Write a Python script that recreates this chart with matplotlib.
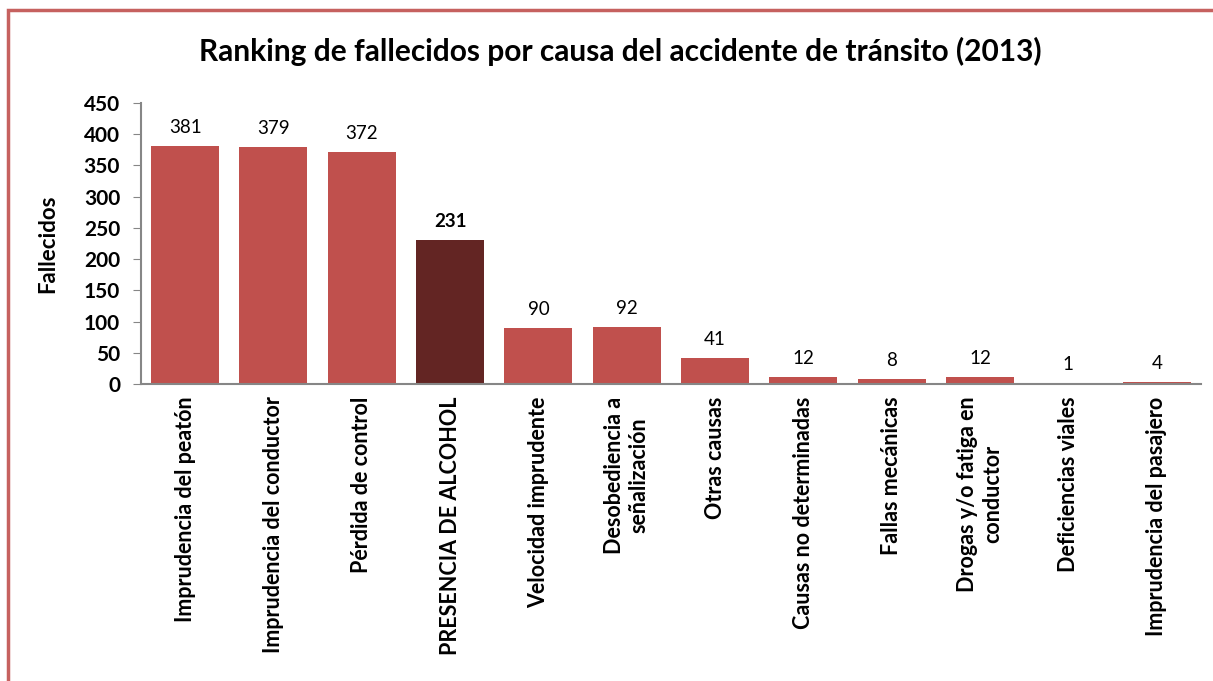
import matplotlib
matplotlib.use('Agg')
import matplotlib.pyplot as plt
import matplotlib.patches as patches
import numpy as np

plt.rcParams['font.family'] = ['Lato', 'DejaVu Sans']

causas = ['Imprudencia del peatón', 'Imprudencia del conductor', 'Pérdida de control',
          'PRESENCIA DE ALCOHOL', 'Velocidad imprudente', 'Desobediencia a\nseñalización',
          'Otras causas', 'Causas no determinadas', 'Fallas mecánicas',
          'Drogas y/o fatiga en\nconductor', 'Deficiencias viales', 'Imprudencia del pasajero']
fallecidos = [381, 379, 372, 231, 90, 92, 41, 12, 8, 12, 1, 4]
destacado = 'PRESENCIA DE ALCOHOL'

fig = plt.figure(figsize=(12.13, 6.81), dpi=100)
ax = fig.add_axes([0.1162, 0.4361, 0.8738, 0.4127])

x = np.arange(len(causas))
colores = ['#632523' if c == destacado else '#C0504D' for c in causas]
ax.bar(x, fallecidos, width=0.77, color=colores)

for xi, v, c in zip(x, fallecidos, causas):
    ax.text(xi, v + 16, str(v), ha='center', va='bottom', fontsize=13.5,
            fontweight='bold' if c == destacado else 'normal')

ax.set_xlim(-0.5, len(causas) - 0.5)
ax.set_ylim(0, 450)
ax.set_yticks(range(0, 451, 50))
ax.set_xticks(x)
ax.set_xticklabels(causas, rotation=90, fontsize=15.5, fontweight='bold',
                   ha='center', va='top', multialignment='center', linespacing=1.25)
ax.tick_params(axis='x', length=0, pad=9)
ax.tick_params(axis='y', direction='out', length=6, color='#868686', labelsize=15, pad=9)
for lab in ax.get_yticklabels():
    lab.set_fontweight('bold')
for s in ['top', 'right']:
    ax.spines[s].set_visible(False)
for s in ['left', 'bottom']:
    ax.spines[s].set_color('#868686')
    ax.spines[s].set_linewidth(1.5)

ax.set_ylabel('Fallecidos', fontsize=16, fontweight='bold', labelpad=18)
fig.text(0.511, 0.924, 'Ranking de fallecidos por causa del accidente de tránsito (2013)',
         ha='center', va='center', fontsize=21.5, fontweight='bold')

borde = patches.Rectangle((8 / 1213, -0.1), 1.2, 1 - 10 / 681 + 0.1, transform=fig.transFigure,
                          fill=False, edgecolor='#C0504D', linewidth=2.5, alpha=0.9)
fig.patches.append(borde)

fig.savefig('out.png', dpi=100)
